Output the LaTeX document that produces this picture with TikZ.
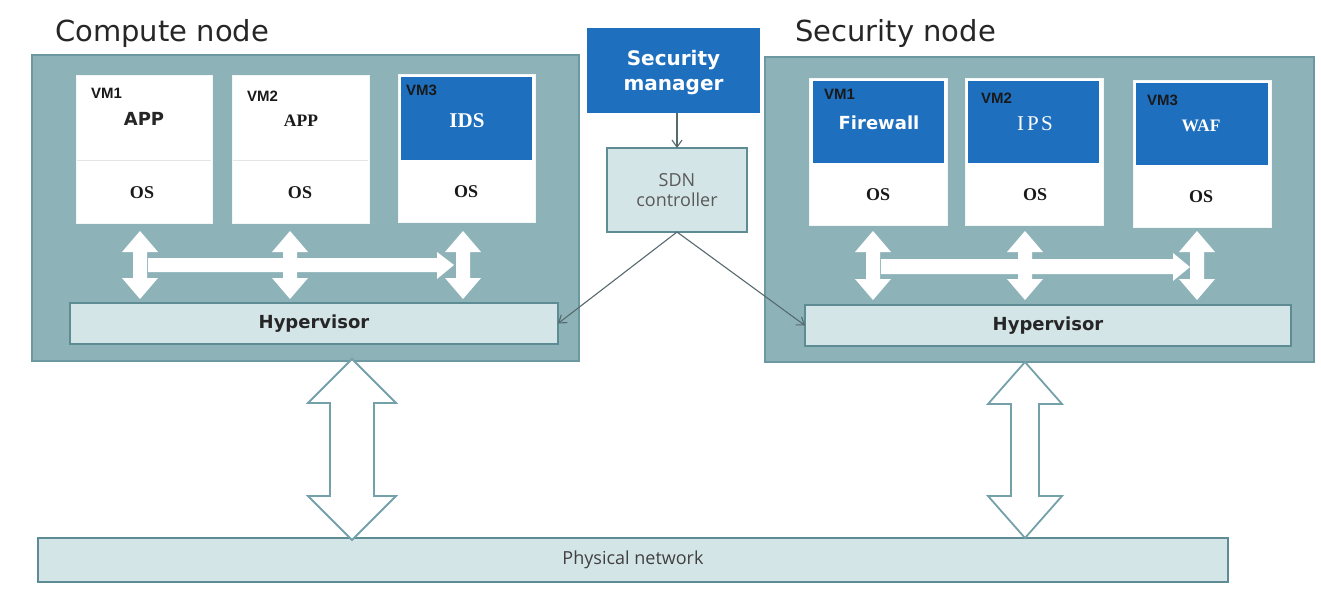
\documentclass[tikz,border=0pt]{standalone}
\usepackage{fontspec}
\setmainfont{DejaVu Sans}
\newfontfamily\tmsfont{Liberation Serif}
\newfontfamily\arfont{Liberation Sans}
\newfontfamily\osfont{Open Sans}
\usetikzlibrary{arrows.meta}
\definecolor{nodefill}{HTML}{8DB3B9}
\definecolor{nodeborder}{HTML}{6C98A1}
\definecolor{lightfill}{HTML}{D4E5E8}
\definecolor{darkborder}{HTML}{5E8C95}
\definecolor{vmblue}{HTML}{1E6FBE}
\definecolor{conngray}{HTML}{566A6E}
\definecolor{bigarrow}{HTML}{74A1A9}
\newcommand\vdarr[7]{\path[#1] (#2,#3) -- ({#2+#5},{#3+#7}) -- ({#2+#6},{#3+#7}) -- ({#2+#6},{#4-#7}) -- ({#2+#5},{#4-#7}) -- (#2,#4) -- ({#2-#5},{#4-#7}) -- ({#2-#6},{#4-#7}) -- ({#2-#6},{#3+#7}) -- ({#2-#5},{#3+#7}) -- cycle;}
\tikzset{
  box/.style={rectangle, inner sep=0pt, outer sep=0pt, anchor=north west},
  nodebox/.style={box, fill=nodefill, draw=nodeborder, line width=1.6pt},
  hyper/.style={box, fill=lightfill, draw=darkborder, line width=1.6pt},
  vm/.style={box, fill=white, draw=white!88!nodefill, line width=0.8pt},
  bluetop/.style={box, fill=vmblue},
  divider/.style={draw=black!10, line width=1pt},
  title/.style={font=\fontsize{29}{32}\selectfont, text=black!85, anchor=base west, inner sep=0pt},
  vmlab/.style={font=\arfont\bfseries\fontsize{15}{17}\selectfont, text=black!90, anchor=west, inner sep=0pt},
  ostext/.style={font=\tmsfont\bfseries\fontsize{18}{20}\selectfont, text=black!90, inner sep=0pt},
  hyptext/.style={font=\bfseries\fontsize{18}{20}\selectfont, text=black!85, inner sep=0pt},
  whitearr/.style={fill=white},
  bigarr/.style={fill=white, draw=bigarrow, line width=1.8pt, line join=miter},
  conn/.style={draw=conngray, line width=1.1pt, -{Straight Barb[length=7pt,width=10pt]}}
}
\begin{document}
\begin{tikzpicture}[x=1pt,y=-1pt]
\useasboundingbox (0,0) rectangle (1321,599);
\fill[white] (0,0) rectangle (1321,599);

% titles
\node[title] (ctitle) at (55,42) {Compute node};
\node[title] (stitle) at (795,42) {Security node};

% compute node
\node[nodebox, minimum width=547, minimum height=306] (cbox) at (32,55) {};
\node[vm, minimum width=136, minimum height=148] (cvm1) at (76,75) {};
\node[vm, minimum width=137, minimum height=148] (cvm2) at (232,75) {};
\node[vm, minimum width=137, minimum height=148] (cvm3) at (398,74) {};
\node[bluetop, minimum width=131, minimum height=83] (cvm3top) at (401,77) {};
\draw[divider] (77,160) -- (211,160);
\draw[divider] (233,160) -- (368,160);
\node[vmlab] (cl1) at (91,93) {VM1};
\node[vmlab] (cl2) at (247,96) {VM2};
\node[vmlab] (cl3) at (406,90) {VM3};
\node[font=\bfseries\fontsize{18}{20}\selectfont, text=black!85, inner sep=0pt] (capp1) at (144,119) {APP};
\node[font=\tmsfont\bfseries\fontsize{17.5}{20}\selectfont, text=black!90, inner sep=0pt] (capp2) at (301,121) {APP};
\node[font=\tmsfont\bfseries\fontsize{21}{23}\selectfont, text=white, inner sep=0pt] (cids) at (467,121) {IDS};
\node[ostext] (cos1) at (142,193) {OS};
\node[ostext] (cos2) at (300,193) {OS};
\node[ostext] (cos3) at (466,192) {OS};
\node[hyper, minimum width=488, minimum height=41] (chyp) at (70,303) {};
\node[hyptext] at (chyp.center) {Hypervisor};
\vdarr{whitearr}{140}{231}{299}{18}{7}{21}
\vdarr{whitearr}{290}{231}{299}{18}{7}{21}
\vdarr{whitearr}{463}{231}{299}{18}{7}{21}
\path[whitearr] (148,258) -- (437,258) -- (437,252) -- (454,265) -- (437,279) -- (437,272) -- (148,272) -- cycle;

% security node
\node[nodebox, minimum width=549, minimum height=305] (sbox) at (765,57) {};
\node[vm, minimum width=138, minimum height=147] (svm1) at (809,78) {};
\node[vm, minimum width=138, minimum height=147] (svm2) at (965,78) {};
\node[vm, minimum width=138, minimum height=147] (svm3) at (1133,80) {};
\node[bluetop, minimum width=131, minimum height=82] (svm1top) at (813,81) {};
\node[bluetop, minimum width=131, minimum height=82] (svm2top) at (968,81) {};
\node[bluetop, minimum width=132, minimum height=82] (svm3top) at (1136,83) {};
\node[vmlab] (sl1) at (824,94) {VM1};
\node[vmlab] (sl2) at (981,98) {VM2};
\node[vmlab] (sl3) at (1147,100) {VM3};
\node[font=\bfseries\fontsize{18}{20}\selectfont, text=white, inner sep=0pt] (sfw) at (879,123) {Firewall};
\node[font=\tmsfont\fontsize{21}{23}\selectfont, text=white, inner sep=0pt] (sips) at (1035,124) {I\kern3pt P\kern2.5pt S};
\node[font=\tmsfont\bfseries\fontsize{17.5}{19}\selectfont, text=white, inner sep=0pt] (swaf) at (1201,126) {WAF};
\node[ostext] (sos1) at (878,195) {OS};
\node[ostext] (sos2) at (1035,195) {OS};
\node[ostext] (sos3) at (1201,197) {OS};
\node[hyper, minimum width=486, minimum height=41] (shyp) at (805,305) {};
\node[hyptext] at (shyp.center) {Hypervisor};
\vdarr{whitearr}{873}{231}{300}{18}{7}{21}
\vdarr{whitearr}{1025}{231}{300}{18}{7}{21}
\vdarr{whitearr}{1197}{231}{300}{18}{7}{21}
\path[whitearr] (881,259) -- (1173,259) -- (1173,253) -- (1190,267) -- (1173,281) -- (1173,274) -- (881,274) -- cycle;

% security manager and SDN controller
\node[box, fill=vmblue, minimum width=173, minimum height=85] (sm) at (587,28) {};
\node[font=\bfseries\fontsize{20}{23}\selectfont, text=white, align=center, inner sep=0pt] (smt) at ([yshift=-2pt]sm.center) {Security\\[2pt]manager};
\node[hyper, minimum width=140, minimum height=84] (sdn) at (607,148) {};
\node[font=\osfont\fontsize{18}{20}\selectfont, text=black!65, align=center, inner sep=0pt] (sdnt) at (sdn.center) {SDN\\controller};
\draw[conn] (sm.south -| sdn.north) -- (sdn.north);
\draw[conn] (sdn.south) -- (chyp.east);
\draw[conn] (sdn.south) -- (shyp.west);

% physical network
\node[hyper, minimum width=1190, minimum height=44] (phys) at (38,538) {};
\node[font=\osfont\fontsize{18}{20}\selectfont, text=black!75, inner sep=0pt] (physt) at (phys.center) {Physical network};

% big double arrows
\vdarr{bigarr}{352}{359}{540}{44}{22}{44}
\vdarr{bigarr}{1025}{362}{538}{37}{14}{42}
\end{tikzpicture}
\end{document}
